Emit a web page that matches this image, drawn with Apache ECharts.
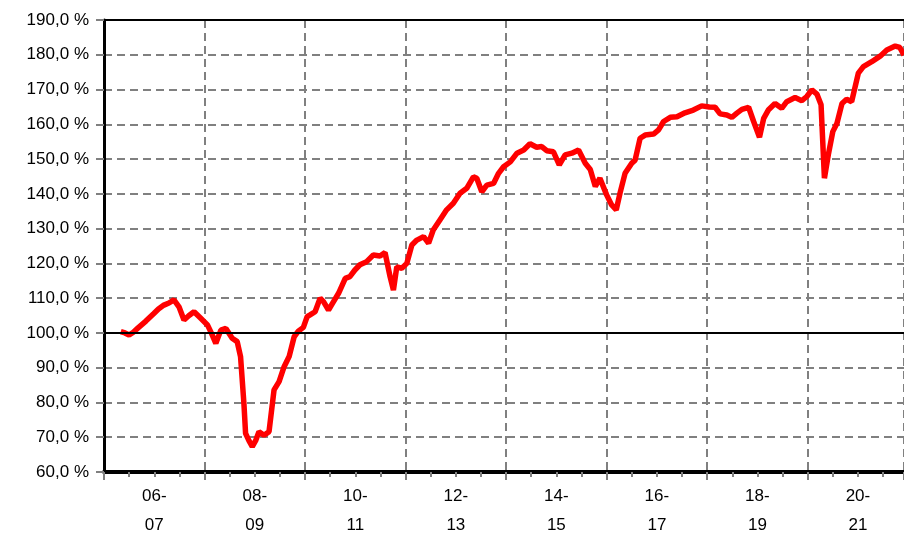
<!DOCTYPE html>
<html>
<head>
<meta charset="utf-8">
<script src="https://cdn.jsdelivr.net/npm/echarts@6/dist/echarts.min.js"></script>
<style>
  html, body { margin: 0; padding: 0; background: #fff; }
  #chart { width: 904px; height: 534px; }
</style>
</head>
<body>
<div id="chart"></div>
<script>
// months since Jan 2006 and index level in %
var months = [4.0, 5.0, 6.0, 7.0, 8.0, 10.0, 11.9, 13.0, 14.3, 15.5, 16.7, 17.9, 19.1, 20.3, 21.5, 23.1, 24.7, 25.7, 26.7, 27.9,
  29.1, 30.6, 31.8, 32.6, 33.4, 33.8, 34.6, 35.4, 36.2, 37.0, 38.2, 39.4, 40.6, 41.8, 43.0, 44.2, 45.4, 46.4, 47.6, 48.5,
  49.2, 50.4, 51.6, 52.4, 53.6, 54.8, 56.0, 57.6, 58.7, 59.9, 61.1, 62.7, 64.3, 65.9, 67.1, 68.3, 69.1, 69.9, 71.1, 72.3,
  73.5, 74.7, 76.3, 77.5, 78.6, 80.2, 81.8, 83.4, 85.0, 86.6, 88.2, 89.0, 90.2, 91.4, 93.0, 94.2, 95.4, 97.0, 98.6, 100.2,
  101.7, 103.3, 104.5, 105.7, 107.3, 108.7, 110.1, 111.7, 113.3, 114.9, 116.1, 117.3, 118.4, 120.0, 121.2, 122.3, 123.2, 124.4, 126.0, 126.8,
  128.0, 129.2, 131.2, 132.4, 133.6, 135.2, 136.8, 138.7, 140.7, 142.7, 144.5, 145.9, 147.1, 148.7, 149.9, 151.1, 152.3, 153.9, 155.1, 156.5,
  157.5, 158.6, 160.2, 161.8, 163.0, 165.0, 166.6, 167.8, 169.0, 170.2, 171.2, 172.0, 173.0, 174.0, 175.0, 176.2, 177.3, 178.5, 180.1, 181.3,
  183.3, 185.3, 186.9, 188.9, 190.0, 191.0];
var values = [100.4, 100.0, 99.4, 100.2, 101.3, 103.4, 105.6, 106.9, 108.0, 108.6, 109.5, 107.5, 103.7, 105.0, 106.1, 104.2, 102.3, 99.8, 97.0, 100.8,
  101.3, 98.5, 97.5, 93.2, 79.8, 71.1, 69.0, 67.3, 69.0, 71.6, 70.6, 71.6, 83.6, 86.0, 90.3, 93.2, 98.9, 100.5, 101.6, 104.7,
  105.2, 106.1, 110.0, 109.0, 106.6, 109.0, 111.4, 115.7, 116.2, 118.1, 119.6, 120.5, 122.4, 122.1, 123.1, 116.2, 112.3, 119.0, 118.6, 120.0,
  125.3, 126.7, 127.7, 125.8, 129.6, 132.5, 135.4, 137.3, 140.2, 141.6, 144.9, 144.5, 140.6, 142.5, 143.0, 145.9, 147.8, 149.2, 151.7, 152.6,
  154.4, 153.4, 153.6, 152.4, 152.1, 148.3, 151.2, 151.7, 152.6, 148.8, 147.0, 142.1, 144.5, 139.7, 136.8, 135.4, 140.2, 145.9, 148.8, 149.7,
  156.0, 156.9, 157.2, 158.4, 160.8, 162.0, 162.2, 163.3, 164.1, 165.3, 165.0, 164.9, 163.0, 162.7, 162.0, 163.2, 164.3, 164.9, 160.8, 156.3,
  161.7, 164.1, 166.0, 164.6, 166.5, 167.7, 166.8, 168.0, 169.9, 168.7, 165.6, 144.5, 151.7, 157.9, 160.3, 166.0, 167.2, 166.5, 174.7, 176.6,
  178.0, 179.6, 181.4, 182.5, 182.1, 179.9];
// one label per two-year band
var bandLabels = ['06-\n07', '08-\n09', '10-\n11', '12-\n13', '14-\n15', '16-\n17', '18-\n19', '20-\n21'];
var refLines = [100, 190];

var chart = echarts.init(document.getElementById('chart'));
var gridGray = '#808080';
var font = 'Liberation Sans, Arial, sans-serif';

var seriesData = [];
for (var i = 0; i < months.length; i++) {
  seriesData.push([months[i], values[i]]);
}

chart.setOption({
  animation: false,
  backgroundColor: '#fff',
  grid: { left: 104, top: 20, right: 0, bottom: 62, containLabel: false, outerBoundsMode: 'none' },
  xAxis: [{
    // grid lines and ticks, one major per two years
    type: 'value', min: 0, max: 191, interval: 24,
    axisLine: { show: true, onZero: false, lineStyle: { color: '#000', width: 4 } },
    axisTick: { show: true, length: 8, lineStyle: { color: gridGray, width: 2 } },
    minorTick: { show: true, splitNumber: 4, length: 5, lineStyle: { color: gridGray, width: 2 } },
    axisLabel: { show: false },
    splitLine: { show: true, lineStyle: { color: gridGray, width: 2, type: [8, 5] } }
  }, {
    // labels in the middle of each band
    type: 'value', position: 'bottom', min: 0, max: 191, interval: 12,
    axisLine: { show: false }, axisTick: { show: false }, splitLine: { show: false },
    axisLabel: {
      margin: 10, fontSize: 17, lineHeight: 29, color: '#000', fontFamily: font,
      showMinLabel: true, showMaxLabel: true,
      formatter: function (v) {
        if (v % 24 !== 12) return '';
        return bandLabels[(v - 12) / 24] || '';
      }
    }
  }],
  yAxis: {
    type: 'value', min: 60, max: 190, interval: 10,
    axisLine: { show: true, onZero: false, lineStyle: { color: '#000', width: 3 } },
    axisTick: { show: true, length: 8, lineStyle: { color: gridGray, width: 2 } },
    axisLabel: {
      margin: 15, fontSize: 17, color: '#000', fontFamily: font,
      formatter: function (v) { return v.toFixed(1).replace('.', ',') + ' %'; }
    },
    splitLine: { show: true, lineStyle: { color: gridGray, width: 2, type: [8, 5] } }
  },
  series: [{
    // solid reference lines at 100 % and the top border
    type: 'line', data: [], z: 1,
    markLine: {
      silent: true, symbol: 'none', animation: false,
      label: { show: false },
      lineStyle: { color: '#000', width: 2, type: 'solid' },
      data: refLines.map(function (v) { return { yAxis: v }; })
    }
  }, {
    type: 'line', xAxisIndex: 0, z: 3,
    showSymbol: false, symbol: 'none',
    lineStyle: { color: '#ff0000', width: 5.5 },
    data: seriesData
  }]
});
</script>
</body>
</html>
